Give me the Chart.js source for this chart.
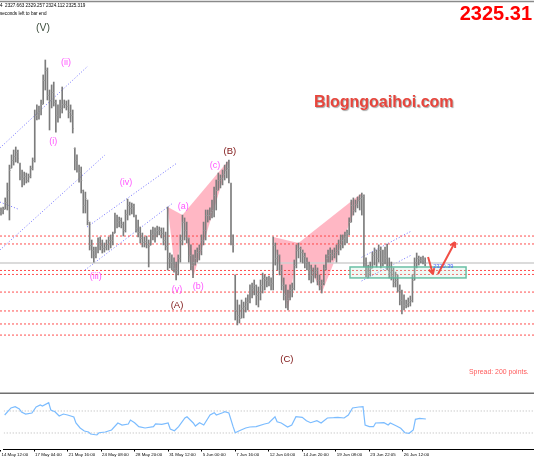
<!DOCTYPE html>
<html>
<head>
<meta charset="utf-8">
<script src="https://cdn.jsdelivr.net/npm/chart.js@4.4.1/dist/chart.umd.min.js"></script>
<style>
  html, body { margin: 0; padding: 0; background: #fff; }
  #wrap { position: relative; width: 534px; height: 462px; overflow: hidden; background: #fff; }
  #main { position: absolute; left: 0; top: 0; }
  #osc { position: absolute; left: 0; top: 392px; }
</style>
</head>
<body>
<div id="wrap">
  <canvas id="main" width="534" height="392"></canvas>
  <canvas id="osc" width="534" height="70"></canvas>
</div>
<script>
// H4 bars, XAUUSD (index 0 = oldest visible bar)
const highs = [
  2360.0, 2360.6, 2366.3, 2375.7, 2387.0, 2393.4, 2396.5, 2398.4, 2396.5, 2388.3,
  2383.9, 2382.6, 2382.0, 2381.4, 2386.4, 2391.5, 2421.7, 2424.9, 2424.2, 2428.0,
  2443.8, 2453.2, 2448.2, 2434.3, 2437.5, 2439.3, 2428.0, 2424.9, 2428.0, 2436.2,
  2428.0, 2427.4, 2428.0, 2424.9, 2421.7, 2397.8, 2393.4, 2387.0, 2385.8, 2371.3,
  2370.0, 2365.0, 2351.1, 2339.8, 2335.4, 2335.4, 2341.1, 2341.7, 2339.8, 2337.9,
  2339.8, 2341.7, 2343.0, 2344.8, 2356.8, 2355.5, 2354.3, 2353.7, 2351.1, 2358.7,
  2365.6, 2363.7, 2363.1, 2362.5, 2355.5, 2352.4, 2348.0, 2344.2, 2341.7, 2342.3,
  2339.8, 2346.1, 2348.0, 2347.4, 2348.6, 2348.0, 2347.4, 2347.4, 2344.8, 2360.6,
  2331.6, 2330.4, 2328.5, 2325.9, 2330.4, 2343.0, 2355.5, 2353.7, 2351.1, 2341.1,
  2336.7, 2330.4, 2333.5, 2334.8, 2336.7, 2343.0, 2351.1, 2358.7, 2358.7, 2360.0,
  2365.0, 2373.2, 2377.6, 2382.0, 2380.8, 2383.9, 2387.0, 2388.9, 2390.2, 2375.7,
  2343.0, 2317.8, 2302.0, 2298.9, 2302.0, 2300.7, 2303.3, 2305.2, 2311.5, 2312.7,
  2314.6, 2311.5, 2310.2, 2314.6, 2319.0, 2317.8, 2316.5, 2317.1, 2315.9, 2341.7,
  2337.9, 2333.5, 2330.4, 2324.0, 2315.9, 2311.5, 2308.3, 2311.5, 2312.7, 2327.2,
  2336.7, 2337.9, 2335.4, 2333.5, 2331.6, 2328.5, 2325.9, 2324.0, 2322.2, 2324.0,
  2322.2, 2317.8, 2314.6, 2324.0, 2330.4, 2333.5, 2334.8, 2333.5, 2334.8, 2336.7,
  2339.8, 2343.0, 2343.0, 2344.8, 2346.1, 2353.7, 2365.0, 2366.3, 2365.0, 2366.9,
  2368.2, 2369.4, 2368.2, 2328.5, 2324.0, 2325.9, 2332.2, 2334.8, 2333.5, 2336.7,
  2335.4, 2333.5, 2335.4, 2337.3, 2328.5, 2325.9, 2322.2, 2319.6, 2317.8, 2311.5,
  2308.3, 2305.2, 2302.0, 2303.3, 2304.5, 2317.8, 2328.5, 2331.6, 2329.7, 2329.1,
  2329.7, 2328.5
];
const lows = [
  2355.5, 2356.2, 2359.3, 2358.7, 2352.4, 2385.2, 2387.0, 2388.9, 2388.3, 2377.6,
  2373.2, 2374.5, 2375.7, 2376.3, 2378.9, 2383.9, 2388.9, 2415.4, 2416.0, 2418.6,
  2425.5, 2434.3, 2428.0, 2409.1, 2423.0, 2424.2, 2407.8, 2414.1, 2416.7, 2419.8,
  2423.0, 2421.7, 2416.7, 2414.1, 2407.2, 2383.9, 2382.6, 2376.3, 2369.4, 2356.8,
  2356.8, 2349.3, 2333.5, 2328.5, 2325.9, 2328.5, 2331.6, 2333.5, 2331.6, 2332.2,
  2333.5, 2333.5, 2334.8, 2336.7, 2344.2, 2347.4, 2348.0, 2347.4, 2342.3, 2344.8,
  2352.4, 2355.5, 2356.2, 2354.3, 2344.8, 2341.7, 2337.9, 2335.4, 2335.4, 2334.8,
  2322.8, 2336.7, 2339.8, 2338.5, 2341.7, 2343.0, 2341.1, 2336.7, 2333.5, 2320.9,
  2322.2, 2320.9, 2319.6, 2314.6, 2317.8, 2325.9, 2336.7, 2339.8, 2337.9, 2325.9,
  2320.9, 2316.0, 2324.0, 2325.9, 2327.2, 2330.4, 2336.7, 2339.8, 2351.1, 2352.4,
  2353.7, 2354.3, 2358.7, 2371.3, 2372.6, 2374.5, 2377.6, 2378.9, 2375.7, 2336.7,
  2332.2, 2289.4, 2286.3, 2287.5, 2290.7, 2290.7, 2294.4, 2295.7, 2300.1, 2303.3,
  2305.2, 2298.9, 2297.6, 2302.0, 2306.4, 2308.3, 2310.2, 2310.8, 2308.3, 2308.3,
  2324.0, 2320.9, 2317.8, 2308.3, 2302.0, 2297.0, 2295.7, 2302.0, 2303.9, 2308.3,
  2322.2, 2328.5, 2325.9, 2325.3, 2322.2, 2320.9, 2314.6, 2312.7, 2313.3, 2315.9,
  2311.5, 2308.3, 2306.4, 2311.5, 2320.9, 2325.9, 2325.9, 2327.2, 2328.5, 2325.9,
  2330.4, 2333.5, 2334.8, 2336.7, 2337.9, 2343.0, 2351.1, 2355.5, 2357.4, 2360.0,
  2358.7, 2355.5, 2322.8, 2316.5, 2315.9, 2317.1, 2322.2, 2324.0, 2322.8, 2325.9,
  2322.2, 2323.4, 2324.7, 2320.9, 2315.9, 2314.6, 2310.2, 2310.2, 2307.0, 2298.9,
  2293.2, 2295.7, 2297.0, 2297.6, 2298.2, 2300.7, 2314.6, 2322.2, 2324.0, 2325.3,
  2324.7, 2323.4
];
const closes = [
  2357.4, 2359.3, 2363.7, 2371.3, 2383.9, 2390.2, 2392.7, 2395.2, 2391.5, 2380.8,
  2378.9, 2380.1, 2377.6, 2380.1, 2385.2, 2390.2, 2418.6, 2420.4, 2421.7, 2425.5,
  2440.6, 2446.9, 2431.2, 2428.0, 2433.0, 2426.7, 2418.6, 2421.7, 2423.0, 2425.5,
  2425.5, 2424.2, 2420.4, 2418.6, 2410.4, 2390.2, 2387.0, 2382.6, 2377.6, 2361.9,
  2366.3, 2352.4, 2336.7, 2333.5, 2330.4, 2333.5, 2338.5, 2336.7, 2334.8, 2335.4,
  2337.3, 2339.8, 2339.8, 2342.3, 2353.7, 2351.1, 2352.4, 2349.9, 2346.1, 2356.2,
  2361.9, 2360.0, 2361.2, 2357.4, 2347.4, 2344.8, 2341.1, 2338.5, 2339.2, 2337.3,
  2336.0, 2343.6, 2345.5, 2344.8, 2346.1, 2346.1, 2344.2, 2339.8, 2336.0, 2328.5,
  2325.9, 2324.0, 2322.2, 2320.9, 2328.5, 2339.8, 2351.1, 2346.1, 2341.1, 2330.4,
  2324.0, 2325.9, 2328.5, 2332.2, 2333.5, 2339.8, 2346.1, 2355.5, 2355.5, 2357.4,
  2358.7, 2368.2, 2371.3, 2377.6, 2378.9, 2381.4, 2383.9, 2385.2, 2377.6, 2339.8,
  2336.7, 2295.7, 2292.6, 2290.7, 2297.0, 2298.2, 2300.7, 2302.0, 2308.3, 2309.6,
  2311.5, 2305.2, 2307.0, 2311.5, 2315.9, 2314.6, 2314.0, 2314.6, 2312.7, 2336.7,
  2328.5, 2330.4, 2320.9, 2311.5, 2305.2, 2302.0, 2303.3, 2308.3, 2309.6, 2324.0,
  2333.5, 2334.8, 2332.2, 2329.7, 2325.9, 2324.7, 2320.9, 2317.8, 2319.6, 2320.9,
  2314.6, 2311.5, 2313.3, 2322.2, 2328.5, 2330.4, 2331.6, 2330.4, 2332.2, 2333.5,
  2337.3, 2339.8, 2341.1, 2342.3, 2344.2, 2351.1, 2361.9, 2358.7, 2362.5, 2365.0,
  2366.3, 2367.5, 2325.9, 2320.9, 2319.6, 2322.2, 2330.4, 2332.2, 2328.5, 2333.5,
  2325.9, 2330.4, 2328.5, 2323.4, 2319.6, 2317.1, 2313.3, 2314.6, 2308.3, 2302.0,
  2298.9, 2298.9, 2299.5, 2300.7, 2302.0, 2314.6, 2325.9, 2328.5, 2327.2, 2327.8,
  2327.2, 2325.31
];
const firstOpen = 2358.0;

// horizontal levels (red dashed)
const levelPrices = [2342.3, 2337.3, 2320.6, 2318.1, 2307.0, 2295.1, 2286.9, 2279.9];

// blue dotted channel lines: start (bar, price) -> end (bar, price)
const chanX1 = [-0.5, -0.5, -0.5, 40.8, 39.8, 170.9, 170.9];
const chanP1 = [2397.8, 2333.5, 2363.7, 2348.0, 2320.9, 2328.9, 2314.0];
const chanX2 = [41.2, 49.3, 8.1, 83.4, 81.5, 194.6, 194.6];
const chanP2 = [2449.4, 2393.4, 2359.3, 2388.3, 2363.1, 2345.5, 2330.4];

// harmonic patterns X A B C D (bar indexes; X,B,D on highs, A,C on lows)
const patterns = [[79, 83, 86, 91, 108], [129, 136, 141, 152, 171]];

// wave labels
const waveText  = ['(V)', '(ii)', '(i)', '(iii)', '(iv)', '(v)', '(a)', '(b)', '(c)', '(B)', '(A)', '(C)'];
const waveIdx   = [19.9, 30.8, 24.8, 44.9, 59.2, 83.4, 86.4, 93.5, 101.4, 108.5, 83.4, 135.5];
const wavePrice = [2473.0, 2451.6, 2401.7, 2317.1, 2376.0, 2308.9, 2361.2, 2310.2, 2387.0, 2395.9, 2298.9, 2264.6];

// forecast arrows and zone
const arrowX1 = [202.4, 207.1];
const arrowP1 = [2329.1, 2318.4];
const arrowX2 = [204.7, 215.2];
const arrowP2 = [2318.4, 2338.5];
const zoneIdx = [165.4, 220.4];
const zonePrice = [2315.9, 2322.8];
const zoneLabel = '2320.39';

// oscillator (RSI) readings
const oscIdx = [0, 3, 5, 7, 8, 10, 13, 15, 17, 18, 21, 22, 24, 26, 28, 30, 33, 34, 36, 38,
  40, 41, 44, 45, 48, 51, 54, 56, 59, 60, 62, 64, 67, 71, 72, 75, 78, 79, 81, 83,
  86, 87, 90, 91, 93, 95, 98, 100, 101, 104, 105, 107, 109, 110, 112, 115, 117, 120, 124, 126,
  129, 130, 132, 135, 137, 139, 142, 144, 146, 149, 151, 154, 157, 159, 162, 164, 166, 169, 171, 172,
  174, 176, 177, 181, 183, 184, 187, 189, 191, 193, 195, 196, 198, 201];
const oscVals = [62.7, 75.5, 77.8, 73.6, 68.2, 64.5, 66.4, 77.3, 80.9, 79.1, 85.1, 71.8, 68.7, 60.9, 64.5, 62.7, 59.1, 48.2, 39.1, 33.6,
  31.8, 28.2, 26.4, 30.5, 31.8, 35.5, 48.2, 44.5, 46.4, 53.6, 48.7, 41.5, 39.1, 41.5, 46.4, 45.8, 48.2, 37.3, 34.2, 41.5,
  57.3, 59.6, 48.2, 42.7, 48.7, 44.5, 62.7, 66.9, 62.7, 66.9, 68.7, 66.4, 41.5, 30.5, 34.2, 39.1, 40.9, 41.5, 46.4, 48.2,
  59.6, 50.5, 48.2, 40.9, 44.5, 59.6, 58.5, 52.4, 48.7, 52.4, 48.2, 57.3, 57.8, 58.5, 57.3, 62.7, 75.5, 77.3, 77.8, 44.5,
  41.5, 41.5, 48.2, 48.7, 44.5, 48.2, 42.7, 38.5, 30.5, 29.5, 35.5, 54.9, 56.7, 55.5];
const oscLevels = [70, 30];

// time axis
const tickIdx = [-2, 14, 30, 46, 62, 78, 94, 110, 126, 142, 158, 174, 190];
const tickLabels = ['14 May 12:00', '17 May 04:00', '21 May 16:00', '24 May 08:00', '28 May 20:00', '31 May 12:00',
  '5 Jun 00:00', '7 Jun 16:00', '12 Jun 04:00', '14 Jun 20:00', '19 Jun 08:00', '23 Jun 22:05', '26 Jun 12:00'];

const X_MIN = -0.47, X_MAX = 252.6;
const FONT = '"Liberation Sans", Arial, sans-serif';

const opens = closes.map((c, i) => i === 0 ? firstOpen : closes[i - 1]);
const lastPrice = closes[closes.length - 1];

const flat = (p, color, width, dash) => ({
  type: 'line', data: [{ x: X_MIN, y: p }, { x: X_MAX, y: p }],
  borderColor: color, borderWidth: width, borderDash: dash, pointRadius: 0
});

const datasets = [
  { type: 'bar', data: highs.map((h, i) => ({ x: i, y: [lows[i], h] })),
    backgroundColor: '#7c7c7c', barThickness: 1 },
  flat(lastPrice, '#cfcfcf', 1.5, []),
  ...levelPrices.map(p => flat(p, 'rgba(255,60,60,0.9)', 1, [2, 2])),
  ...chanX1.map((x, k) => ({
    type: 'line', data: [{ x: x, y: chanP1[k] }, { x: chanX2[k], y: chanP2[k] }],
    borderColor: '#7070ff', borderWidth: 1, borderDash: [1, 2], pointRadius: 0
  }))
];

function pt(chart, i, p) {
  return [chart.scales.x.getPixelForValue(i), chart.scales.y.getPixelForValue(p)];
}

const patternPlugin = {
  id: 'patterns',
  beforeDatasetsDraw(chart) {
    const ctx = chart.ctx;
    ctx.save();
    ctx.fillStyle = 'rgba(255,170,186,0.85)';
    patterns.forEach(piv => {
      const P = piv.map((i, k) => pt(chart, i, k % 2 === 0 ? highs[i] : lows[i]));
      [[P[0], P[1], P[2]], [P[2], P[3], P[4]]].forEach(tri => {
        ctx.beginPath();
        ctx.moveTo(tri[0][0], tri[0][1]);
        ctx.lineTo(tri[1][0], tri[1][1]);
        ctx.lineTo(tri[2][0], tri[2][1]);
        ctx.closePath();
        ctx.fill();
      });
    });
    ctx.restore();
  }
};

function arrow(ctx, x1, y1, x2, y2) {
  const a = Math.atan2(y2 - y1, x2 - x1), L = 6;
  ctx.beginPath();
  ctx.moveTo(x1, y1); ctx.lineTo(x2, y2);
  ctx.moveTo(x2, y2); ctx.lineTo(x2 - L * Math.cos(a - 0.5), y2 - L * Math.sin(a - 0.5));
  ctx.moveTo(x2, y2); ctx.lineTo(x2 - L * Math.cos(a + 0.5), y2 - L * Math.sin(a + 0.5));
  ctx.stroke();
}

const overlayPlugin = {
  id: 'overlay',
  afterDatasetsDraw(chart) {
    const ctx = chart.ctx;
    const xs = chart.scales.x, ys = chart.scales.y;
    ctx.save();
    // open / close ticks
    ctx.strokeStyle = '#9a9a9a';
    ctx.lineWidth = 1;
    ctx.beginPath();
    closes.forEach((c, i) => {
      const x = xs.getPixelForValue(i);
      const o = Math.min(Math.max(opens[i], lows[i]), highs[i]);
      const yo = Math.round(ys.getPixelForValue(o)) + 0.5;
      const yc = Math.round(ys.getPixelForValue(c)) + 0.5;
      ctx.moveTo(x - 1.1, yo); ctx.lineTo(x, yo);
      ctx.moveTo(x, yc); ctx.lineTo(x + 1.1, yc);
    });
    ctx.stroke();

    // zone box
    const [bx1, by1] = pt(chart, zoneIdx[0], zonePrice[1]);
    const [bx2, by2] = pt(chart, zoneIdx[1], zonePrice[0]);
    ctx.fillStyle = 'rgba(190,230,215,0.25)';
    ctx.fillRect(bx1, by1, bx2 - bx1, by2 - by1);
    ctx.strokeStyle = 'rgba(90,185,155,0.9)';
    ctx.lineWidth = 1.5;
    ctx.strokeRect(bx1, by1, bx2 - bx1, by2 - by1);

    // zone label
    ctx.fillStyle = '#4d63ff';
    ctx.font = '5.6px ' + FONT;
    ctx.textBaseline = 'middle';
    ctx.textAlign = 'left';
    const [lx, ly] = pt(chart, 204.8, zonePrice[1]);
    ctx.fillText(zoneLabel, lx, ly - 0.5);

    // arrows
    ctx.strokeStyle = 'rgba(240,60,50,0.9)';
    ctx.lineWidth = 2;
    arrowX1.forEach((x, k) => {
      const [x1, y1] = pt(chart, x, arrowP1[k]);
      const [x2, y2] = pt(chart, arrowX2[k], arrowP2[k]);
      arrow(ctx, x1, y1, x2, y2);
    });

    // wave labels
    ctx.textAlign = 'center';
    waveText.forEach((t, k) => {
      const [x, y] = pt(chart, waveIdx[k], wavePrice[k]);
      if (t === '(V)') { ctx.fillStyle = '#3f4f3f'; ctx.font = '10.5px ' + FONT; }
      else if (/[ABC]/.test(t)) { ctx.fillStyle = '#7d1212'; ctx.font = '9.5px ' + FONT; }
      else { ctx.fillStyle = '#ff55ff'; ctx.font = '9px ' + FONT; }
      ctx.fillText(t, x, y);
    });
    ctx.restore();
  },
  afterDraw(chart) {
    const ctx = chart.ctx;
    ctx.save();
    ctx.strokeStyle = '#8a8a8a';
    ctx.lineWidth = 1.5;
    ctx.beginPath(); ctx.moveTo(0, 1.5); ctx.lineTo(534, 1.5); ctx.stroke();

    ctx.textBaseline = 'middle';
    ctx.textAlign = 'left';
    ctx.fillStyle = '#000';
    ctx.font = '4.6px ' + FONT;
    ctx.fillText('4  2327.663 2329.257 2324.112 2325.319', 0, 6);
    ctx.fillText('seconds left to bar end', 0, 13.3);

    ctx.fillStyle = '#ff5a5a';
    ctx.font = '6.9px ' + FONT;
    ctx.fillText('Spread: 200 points.', 469, 372);

    ctx.save();
    ctx.shadowColor = 'rgba(0,0,0,0.35)';
    ctx.shadowOffsetX = 1; ctx.shadowOffsetY = 1; ctx.shadowBlur = 1;
    ctx.fillStyle = '#e8453c';
    ctx.font = 'bold 16px ' + FONT;
    ctx.fillText('Blogngoaihoi.com', 314, 103);
    ctx.restore();

    ctx.fillStyle = '#ff0000';
    ctx.font = 'bold 20px ' + FONT;
    ctx.textAlign = 'right';
    ctx.fillText('2325.31', 532, 14);
    ctx.restore();
  }
};

new Chart(document.getElementById('main'), {
  type: 'bar',
  data: { datasets: datasets },
  options: {
    responsive: false,
    animation: false,
    events: [],
    layout: { padding: 0 },
    plugins: { legend: { display: false }, tooltip: { enabled: false } },
    scales: {
      x: { type: 'linear', min: X_MIN, max: X_MAX, offset: false, display: false },
      y: { min: 2244.04, max: 2491.0, display: false }
    }
  },
  plugins: [patternPlugin, overlayPlugin]
});

const sepPlugin = {
  id: 'sep',
  afterDraw(chart) {
    const ctx = chart.ctx;
    ctx.save();
    ctx.strokeStyle = '#707070';
    ctx.lineWidth = 1.5;
    ctx.beginPath(); ctx.moveTo(0, 1.2); ctx.lineTo(534, 1.2); ctx.stroke();
    ctx.restore();
  }
};

new Chart(document.getElementById('osc'), {
  type: 'line',
  data: {
    datasets: [
      { data: oscIdx.map((x, k) => ({ x: x, y: oscVals[k] })), borderColor: '#7bbcff',
        borderWidth: 1.2, pointRadius: 0, tension: 0 },
      ...oscLevels.map(v => ({ data: [{ x: X_MIN, y: v }, { x: X_MAX, y: v }],
        borderColor: '#b4b4b4', borderWidth: 1, borderDash: [1, 2], pointRadius: 0 }))
    ]
  },
  options: {
    responsive: false,
    animation: false,
    events: [],
    layout: { padding: 0 },
    plugins: { legend: { display: false }, tooltip: { enabled: false } },
    scales: {
      x: {
        type: 'linear', min: X_MIN, max: X_MAX, offset: false, position: 'bottom',
        afterBuildTicks: s => { s.ticks = tickIdx.map(v => ({ value: v })); },
        afterFit: s => { s.height = 12.5; },
        grid: { drawOnChartArea: false, drawTicks: true, tickLength: 2, color: '#000' },
        border: { color: '#000', width: 1 },
        ticks: {
          autoSkip: false, maxRotation: 0, minRotation: 0, align: 'start', padding: 0.5,
          labelOffset: 1, color: '#000', font: { family: FONT, size: 4.4 },
          callback: (v, i) => tickLabels[i]
        }
      },
      y: { min: 0, max: 104.545, display: false }
    }
  },
  plugins: [sepPlugin]
});
</script>
</body>
</html>
